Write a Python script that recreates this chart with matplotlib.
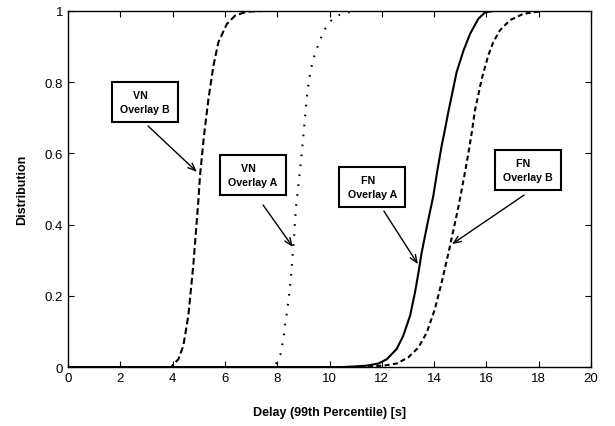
import matplotlib
matplotlib.use("Agg")
import matplotlib.pyplot as plt

plt.rcParams['font.family'] = ['Liberation Sans', 'DejaVu Sans']

# VN Overlay B (dashed, long)
vnb_x = [0.0, 3.95, 4.03, 4.22, 4.41, 4.6, 4.79, 4.98, 5.05, 5.2, 5.37, 5.56, 5.75, 6.07, 6.39, 6.83, 7.46]
vnb_y = [0.0, 0.0, 0.008, 0.022, 0.06, 0.144, 0.285, 0.463, 0.54, 0.65, 0.753, 0.846, 0.912, 0.963, 0.987, 0.998, 1.0]
# VN Overlay A (dotted)
vna_x = [0.0, 7.9, 7.98, 8.13, 8.2, 8.26, 8.3, 8.36, 8.45, 8.53, 8.62, 8.72, 8.84, 8.95, 9.05, 9.13,
         9.22, 9.36, 9.51, 9.61, 9.76, 9.93, 10.18, 10.53, 10.91, 11.1]
vna_y = [0.0, 0.0, 0.013, 0.037, 0.065, 0.092, 0.119, 0.147, 0.2, 0.256, 0.34, 0.451, 0.53, 0.61, 0.69, 0.757,
         0.809, 0.861, 0.893, 0.914, 0.94, 0.963, 0.982, 0.994, 0.998, 1.0]
# FN Overlay A (solid)
fna_x = [0.0, 10.5, 11.0, 11.42, 11.87, 12.19, 12.57, 12.82, 13.08, 13.27, 13.4, 13.52, 13.73, 13.97, 14.12,
         14.29, 14.42, 14.54, 14.86, 15.12, 15.37, 15.69, 15.95, 16.26, 16.9]
fna_y = [0.0, 0.0, 0.002, 0.004, 0.01, 0.022, 0.051, 0.088, 0.144, 0.21, 0.265, 0.32, 0.397, 0.481, 0.55,
         0.622, 0.669, 0.715, 0.828, 0.888, 0.935, 0.978, 0.996, 1.0, 1.0]
# FN Overlay B (dashed, short)
fnb_x = [0.0, 11.0, 12.06, 12.57, 13.01, 13.4, 13.72, 14.03, 14.29, 14.58, 14.93, 15.18, 15.31, 15.44,
         15.56, 15.82, 16.07, 16.26, 16.52, 16.9, 17.41, 17.79, 18.18]
fnb_y = [0.0, 0.0, 0.004, 0.01, 0.027, 0.055, 0.097, 0.163, 0.238, 0.331, 0.45, 0.547, 0.6, 0.659,
         0.72, 0.809, 0.875, 0.912, 0.946, 0.974, 0.992, 0.996, 1.0]

x_ticks = [0, 2, 4, 6, 8, 10, 12, 14, 16, 18, 20]
y_ticks = [0, 0.2, 0.4, 0.6, 0.8, 1]
y_tick_labels = ['0', '0.2', '0.4', '0.6', '0.8', '1']

labels = ["VN   \nOverlay B", "VN   \nOverlay A", "FN   \nOverlay A", "FN   \nOverlay B"]
box_pos = [(2.94, 0.744), (7.07, 0.539), (11.63, 0.506), (17.59, 0.553)]
arrow_start = [(3.06, 0.677), (7.46, 0.455), (12.08, 0.438), (17.44, 0.483)]
arrow_tip = [(4.93, 0.548), (8.6, 0.337), (13.38, 0.289), (14.68, 0.345)]

fig = plt.figure(figsize=(6.15, 4.27), dpi=100)
ax = fig.add_axes([0.1106, 0.138, 0.961 - 0.1106, 0.972 - 0.138])

ax.plot(vnb_x, vnb_y, color='black', lw=1.5, dashes=(3.2, 1.6))
ax.plot(vna_x, vna_y, color='black', lw=1.5, dashes=(0.8, 4.0))
ax.plot(fna_x, fna_y, color='black', lw=1.5)
ax.plot(fnb_x, fnb_y, color='black', lw=1.5, dashes=(2.4, 1.6))

for lab, bp, s, t in zip(labels, box_pos, arrow_start, arrow_tip):
    ax.text(bp[0], bp[1], lab, ha='center', va='center', multialignment='center',
            fontsize=7.7, fontweight='bold', linespacing=1.5,
            bbox=dict(boxstyle='square,pad=0.75', facecolor='white', edgecolor='black', lw=1.5))
    ax.annotate('', xy=t, xytext=s,
                arrowprops=dict(arrowstyle='->,head_length=0.55,head_width=0.22', color='black', lw=1.0,
                                shrinkA=0, shrinkB=0))

ax.set_xlim(0, 20)
ax.set_ylim(0, 1)
ax.set_xticks(x_ticks)
ax.set_yticks(y_ticks)
ax.set_yticklabels(y_tick_labels)
ax.tick_params(direction='in', top=True, right=True, labelsize=9.5, length=4, width=0.8)
for sp in ax.spines.values():
    sp.set_linewidth(1.0)
ax.set_xlabel('Delay (99th Percentile) [s]', fontsize=9, fontweight='bold', labelpad=16)
ax.set_ylabel('Distribution', fontsize=9, fontweight='bold', labelpad=12)

fig.savefig('out.png', dpi=100)
